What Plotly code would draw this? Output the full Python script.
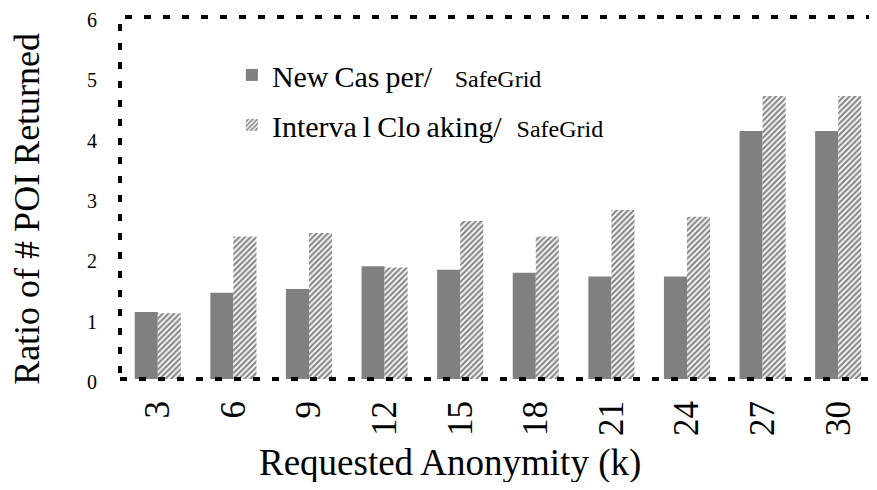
import plotly.graph_objects as go

# requested anonymity k
k_values = ["3", "6", "9", "12", "15", "18", "21", "24", "27", "30"]
# ratio of # POI returned
new_casper = [1.11, 1.43, 1.49, 1.87, 1.81, 1.76, 1.70, 1.70, 4.11, 4.11]
interval_cloaking = [1.09, 2.36, 2.42, 1.85, 2.62, 2.36, 2.80, 2.69, 4.69, 4.69]

serif = "Liberation Serif"
small = "<span style='font-size:24px'>SafeGrid</span>"

fig = go.Figure()
fig.add_trace(go.Bar(
    x=k_values, y=new_casper,
    name="New\u2009Cas\u2009per/&nbsp;&nbsp;&nbsp;" + small,
    marker=dict(color="#808080", line=dict(width=0)),
    legend="legend",
))
fig.add_trace(go.Bar(
    x=k_values, y=interval_cloaking,
    name="Interva\u2009l\u2009Clo\u2009aking/&nbsp;&nbsp;" + small,
    marker=dict(color="white", line=dict(width=0),
                pattern=dict(shape="/", fgcolor="#111111", bgcolor="white",
                             size=4, solidity=0.55)),
    legend="legend2",
))

# axis titles sit off-centre in the original, so they are annotations
fig.add_annotation(text="Requested Anonymity (k)", xref="paper", yref="paper",
                   x=0.4365, y=-0.232, xanchor="center", yanchor="middle",
                   showarrow=False, font=dict(size=37))
fig.add_annotation(text="Ratio of # POI Returned", xref="paper", yref="paper",
                   x=-0.123, y=0.47, xanchor="center", yanchor="middle",
                   textangle=-90, showarrow=False, font=dict(size=36))

# page body has an 8px margin, so the figure is sized to fit the window
fig.update_layout(
    width=869, height=474,
    margin=dict(l=112, r=1, t=9, b=103),
    paper_bgcolor="white", plot_bgcolor="white",
    font=dict(family=serif, color="black"),
    showlegend=True,
    barmode="group", bargap=0.39, bargroupgap=0,
    legend=dict(x=0.148, y=0.84, xanchor="left", yanchor="middle",
                font=dict(size=30), bgcolor="rgba(0,0,0,0)"),
    legend2=dict(x=0.148, y=0.702, xanchor="left", yanchor="middle",
                 font=dict(size=30), bgcolor="rgba(0,0,0,0)"),
    xaxis=dict(
        tickangle=-90, tickfont=dict(size=35), showgrid=False, automargin=False,
        showline=False, ticks="", ticklabelstandoff=14,
    ),
    yaxis=dict(
        range=[0, 6], dtick=1, tickfont=dict(size=20), showgrid=False, automargin=False,
        showline=False, zeroline=False, ticks="", ticklabelstandoff=22,
        ticklabeloverflow="allow", ticklabelshift=3,
    ),
    shapes=[dict(type="rect", xref="paper", yref="paper", x0=0, x1=1, y0=0, y1=1,
                 line=dict(color="black", width=4, dash="7px,12px"), layer="above")],
)

fig.write_html("out.html")
